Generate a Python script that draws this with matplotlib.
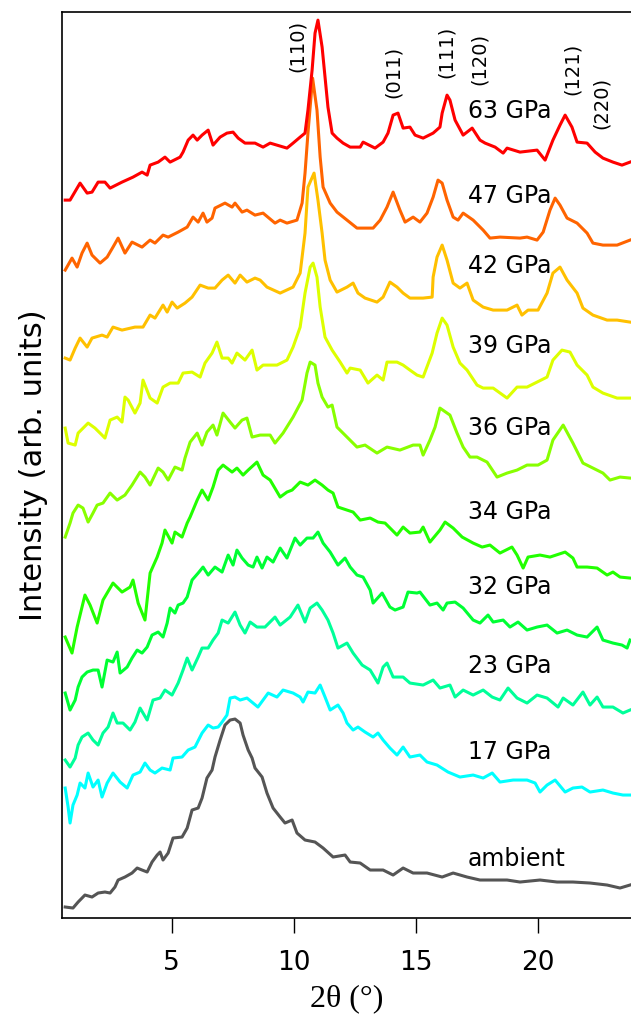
import matplotlib
matplotlib.use('Agg')
import matplotlib.pyplot as plt

# 2theta (deg) and stacked intensity (arb. units)
tth_63 = [0.64, 0.84, 1.25, 1.54, 1.74, 1.99, 2.27, 2.48, 2.97, 3.42, 3.79, 4.00, 4.12, 4.45, 4.73, 4.94,
          5.35, 5.47, 5.68, 5.88, 6.05, 6.25, 6.50, 6.70, 6.99, 7.27, 7.52, 7.73, 8.01, 8.42, 8.75, 9.04,
          9.73, 9.98, 10.27, 10.47, 10.59, 10.76, 10.88, 11.00, 11.17, 11.29, 11.41, 11.58, 11.78, 12.03,
          12.32, 12.73, 12.85, 13.34, 13.67, 13.87, 14.08, 14.28, 14.49, 14.77, 14.98, 15.31, 15.72, 16.00,
          16.09, 16.29, 16.41, 16.62, 16.95, 17.32, 17.64, 17.85, 18.26, 18.59, 18.75, 19.28, 19.98, 20.31,
          20.63, 20.92, 21.13, 21.41, 21.62, 22.03, 22.36, 22.68, 23.09, 23.46, 23.79]
int_63 = [718, 718, 735, 725, 726, 736, 736, 730, 736, 741, 746, 743, 753, 756, 761, 756,
          761, 766, 778, 783, 778, 783, 788, 773, 781, 785, 786, 780, 775, 775, 771, 775,
          770, 775, 781, 785, 808, 848, 885, 898, 871, 841, 811, 785, 780, 775,
          771, 771, 776, 770, 776, 785, 803, 805, 790, 791, 783, 780, 785, 791,
          805, 823, 818, 798, 783, 790, 778, 775, 771, 765, 770, 766, 768, 758,
          778, 793, 803, 791, 776, 775, 766, 760, 756, 753, 756]

tth_47 = [0.64, 0.92, 1.13, 1.33, 1.54, 1.74, 2.07, 2.36, 2.60, 2.81, 3.09, 3.38, 3.79, 4.12, 4.32, 4.65,
          4.86, 5.27, 5.64, 5.88, 6.09, 6.29, 6.45, 6.66, 6.78, 7.19, 7.48, 7.60, 7.89, 8.09, 8.42, 8.75,
          9.24, 9.45, 9.73, 10.14, 10.35, 10.47, 10.59, 10.78, 10.96, 11.09, 11.21, 11.50, 11.78, 12.19,
          12.60, 13.26, 13.55, 13.83, 14.08, 14.36, 14.57, 14.90, 15.18, 15.47, 15.72, 15.92, 16.09, 16.29,
          16.54, 16.74, 16.95, 17.36, 17.77, 18.05, 18.46, 19.28, 19.57, 19.98, 20.23, 20.51, 20.72, 20.92,
          21.21, 21.62, 22.03, 22.27, 22.68, 23.26, 23.79]
int_47 = [648, 660, 651, 665, 675, 663, 655, 661, 671, 680, 665, 676, 671, 678, 675, 683,
          681, 686, 691, 701, 696, 705, 696, 700, 710, 715, 711, 715, 706, 708, 703, 705,
          695, 698, 695, 698, 715, 745, 785, 840, 808, 761, 731, 715, 706, 698,
          690, 690, 698, 711, 726, 708, 696, 701, 696, 705, 721, 738, 735, 718,
          701, 698, 705, 698, 688, 680, 681, 680, 681, 678, 686, 708, 720, 713,
          700, 695, 685, 675, 673, 673, 678]

tth_42 = [0.64, 0.84, 1.05, 1.25, 1.54, 1.74, 2.15, 2.36, 2.60, 2.97, 3.50, 3.83, 4.12, 4.32, 4.65, 4.82,
          5.02, 5.23, 5.55, 5.84, 6.17, 6.50, 6.78, 7.07, 7.32, 7.60, 7.81, 8.09, 8.42, 8.63, 8.91, 9.45,
          9.98, 10.27, 10.47, 10.59, 10.84, 11.00, 11.17, 11.29, 11.50, 11.78, 12.19, 12.44, 12.64, 12.93,
          13.42, 13.67, 13.95, 14.24, 14.49, 14.77, 15.31, 15.68, 15.72, 15.88, 16.09, 16.29, 16.54, 16.82,
          17.11, 17.36, 17.77, 18.18, 18.75, 19.16, 19.36, 19.61, 20.02, 20.39, 20.63, 20.92, 21.21, 21.62,
          21.86, 22.27, 22.85, 23.26, 23.79]
int_42 = [560, 558, 570, 580, 571, 580, 583, 581, 591, 588, 591, 591, 603, 600, 613, 606,
          616, 610, 615, 621, 633, 630, 630, 638, 643, 635, 643, 636, 640, 638, 631, 625,
          631, 645, 685, 731, 745, 718, 685, 658, 638, 626, 631, 635, 625, 620,
          616, 621, 636, 631, 625, 620, 620, 621, 641, 661, 673, 658, 635, 630,
          635, 618, 611, 608, 608, 613, 603, 608, 608, 625, 645, 651, 638, 625,
          610, 603, 598, 598, 596]

tth_39 = [0.64, 0.76, 1.05, 1.17, 1.58, 1.86, 2.15, 2.27, 2.48, 2.77, 2.97, 3.09, 3.22, 3.50, 3.71, 3.83,
          4.12, 4.41, 4.65, 4.94, 5.27, 5.47, 5.84, 6.17, 6.37, 6.66, 6.86, 7.07, 7.32, 7.48, 7.68, 8.01,
          8.30, 8.50, 8.75, 9.32, 9.73, 9.98, 10.27, 10.47, 10.68, 10.80, 10.96, 11.09, 11.29, 11.58,
          11.91, 12.19, 12.32, 12.73, 13.05, 13.42, 13.67, 13.83, 14.24, 14.49, 14.77, 15.06, 15.31, 15.68,
          15.88, 16.09, 16.29, 16.54, 16.82, 17.11, 17.52, 17.77, 18.18, 18.75, 19.16, 19.57, 19.98, 20.39,
          20.63, 21.00, 21.33, 21.62, 22.03, 22.27, 22.68, 23.26, 23.79]
int_39 = [490, 475, 473, 485, 495, 490, 483, 480, 498, 501, 496, 521, 518, 505, 515, 538,
          520, 515, 531, 535, 535, 545, 546, 541, 555, 565, 576, 560, 560, 555, 565, 558,
          568, 548, 553, 553, 558, 571, 591, 625, 651, 655, 641, 611, 581, 568,
          556, 545, 550, 548, 535, 543, 538, 556, 556, 553, 548, 543, 541, 565,
          585, 600, 593, 571, 555, 548, 533, 530, 530, 520, 531, 531, 536, 541,
          558, 568, 566, 553, 543, 531, 525, 520, 520]

tth_36 = [0.64, 0.84, 0.96, 1.17, 1.37, 1.58, 1.78, 1.95, 2.19, 2.48, 2.77, 3.09, 3.38, 3.71, 3.91, 4.12,
          4.45, 4.65, 4.86, 5.14, 5.43, 5.55, 5.76, 6.05, 6.25, 6.45, 6.70, 6.86, 7.11, 7.40, 7.60, 7.89,
          8.09, 8.30, 8.63, 9.04, 9.24, 9.57, 9.98, 10.35, 10.55, 10.68, 10.88, 11.00, 11.17, 11.41, 11.58,
          11.78, 12.19, 12.60, 12.93, 13.42, 13.83, 14.36, 14.90, 15.18, 15.31, 15.59, 15.80, 16.00, 16.41,
          16.70, 16.95, 17.23, 17.52, 17.93, 18.34, 18.75, 19.16, 19.57, 20.02, 20.39, 20.63, 21.05, 21.45,
          21.86, 22.27, 22.68, 22.97, 23.38, 23.79]
int_36 = [381, 395, 405, 413, 410, 396, 405, 413, 415, 425, 418, 423, 433, 446, 441, 433,
          450, 446, 438, 451, 448, 460, 476, 485, 473, 486, 493, 483, 505, 496, 490, 498,
          500, 481, 483, 483, 475, 485, 501, 518, 545, 556, 553, 535, 521, 511, 513,
          491, 481, 471, 473, 465, 471, 468, 473, 473, 463, 478, 491, 510, 503,
          485, 471, 461, 461, 456, 441, 445, 448, 453, 453, 458, 478, 493, 475,
          455, 450, 445, 438, 441, 440]

tth_34 = [0.64, 0.92, 1.13, 1.45, 1.66, 1.95, 2.19, 2.60, 2.97, 3.30, 3.42, 3.63, 3.91, 4.12, 4.41, 4.61,
          4.73, 5.02, 5.14, 5.43, 5.64, 5.76, 6.05, 6.25, 6.50, 6.70, 6.91, 7.11, 7.48, 7.68, 7.93, 8.14,
          8.50, 8.75, 9.04, 9.45, 9.73, 9.94, 10.27, 10.59, 10.88, 11.17, 11.41, 11.62, 11.82, 12.19,
          12.44, 12.73, 13.14, 13.46, 13.75, 14.24, 14.49, 14.77, 15.18, 15.31, 15.59, 16.00, 16.21, 16.54,
          16.91, 17.36, 17.73, 18.05, 18.46, 18.95, 19.16, 19.41, 19.61, 20.10, 20.51, 21.13, 21.45, 21.62,
          22.03, 22.44, 22.85, 23.09, 23.38, 23.79]
int_34 = [281, 265, 291, 323, 313, 295, 318, 335, 326, 331, 338, 315, 298, 345, 361, 375,
          388, 375, 386, 381, 395, 401, 418, 428, 418, 431, 448, 453, 446, 450, 443, 448,
          456, 443, 438, 421, 426, 428, 436, 433, 438, 433, 428, 425, 411, 408,
          406, 398, 400, 396, 395, 383, 391, 385, 386, 391, 376, 388, 396, 390,
          381, 375, 371, 373, 365, 371, 363, 350, 361, 363, 361, 366, 360, 351,
          351, 350, 343, 346, 341, 340]

tth_32 = [0.64, 0.84, 1.05, 1.17, 1.33, 1.54, 1.78, 1.99, 2.15, 2.36, 2.60, 2.77, 2.89, 3.18, 3.38, 3.59,
          3.79, 4.00, 4.20, 4.45, 4.65, 4.82, 4.94, 5.14, 5.27, 5.47, 5.64, 5.84, 6.09, 6.29, 6.50, 6.78,
          7.07, 7.32, 7.52, 7.68, 7.89, 8.14, 8.34, 8.50, 8.71, 8.91, 9.16, 9.45, 9.73, 10.06, 10.27,
          10.55, 10.80, 11.00, 11.21, 11.50, 11.82, 12.11, 12.32, 12.60, 12.85, 13.14, 13.26, 13.63, 13.95,
          14.16, 14.49, 14.69, 15.06, 15.18, 15.59, 15.88, 16.13, 16.29, 16.62, 16.95, 17.36, 17.64, 17.97,
          18.18, 18.59, 18.87, 19.20, 19.57, 19.98, 20.39, 20.80, 21.21, 21.62, 22.03, 22.44, 22.68, 23.09,
          23.46, 23.67, 23.79]
int_32 = [225, 208, 218, 231, 241, 246, 248, 248, 231, 258, 256, 266, 245, 251, 260, 268,
          265, 271, 283, 286, 281, 295, 310, 305, 313, 315, 321, 338, 345, 351, 343, 351,
          346, 363, 353, 368, 360, 353, 351, 361, 350, 361, 356, 370, 360, 380, 373,
          380, 380, 386, 375, 366, 353, 360, 351, 343, 341, 328, 315, 325, 311,
          308, 311, 326, 325, 326, 313, 315, 308, 315, 316, 310, 298, 295, 303,
          296, 298, 291, 296, 288, 291, 293, 285, 288, 283, 281, 291, 278, 275,
          273, 270, 278]

tth_23 = [0.64, 0.84, 1.05, 1.17, 1.33, 1.58, 1.78, 1.99, 2.19, 2.40, 2.60, 2.77, 3.01, 3.30, 3.50, 3.71,
          4.00, 4.24, 4.53, 4.73, 5.02, 5.27, 5.47, 5.64, 5.84, 6.09, 6.25, 6.50, 6.70, 6.91, 7.07, 7.32,
          7.60, 7.81, 8.01, 8.22, 8.50, 8.83, 9.24, 9.45, 9.86, 10.18, 10.47, 10.68, 10.96, 11.17, 11.41,
          11.62, 11.82, 12.19, 12.44, 12.81, 13.14, 13.46, 13.67, 13.83, 14.08, 14.49, 14.77, 15.31, 15.72,
          16.00, 16.41, 16.62, 16.95, 17.36, 17.77, 18.14, 18.46, 18.79, 19.16, 19.57, 19.98, 20.39, 20.84,
          21.05, 21.45, 21.86, 22.15, 22.44, 22.68, 23.09, 23.50, 23.79]
int_23 = [158, 151, 160, 173, 181, 185, 178, 173, 185, 191, 205, 195, 195, 188, 196, 210,
          198, 218, 220, 228, 223, 235, 248, 260, 248, 261, 270, 270, 278, 285, 298, 295,
          306, 293, 285, 296, 291, 291, 301, 293, 301, 313, 296, 310, 315, 308, 298,
          285, 270, 275, 265, 253, 248, 235, 251, 255, 241, 241, 235, 233, 238,
          230, 233, 221, 228, 223, 228, 221, 218, 230, 220, 215, 223, 220, 211,
          220, 213, 226, 213, 221, 211, 211, 205, 208]

tth_17 = [0.64, 0.76, 0.84, 0.96, 1.13, 1.25, 1.45, 1.58, 1.78, 1.99, 2.15, 2.36, 2.60, 2.89, 3.18, 3.42,
          3.71, 3.91, 4.12, 4.32, 4.61, 4.94, 5.06, 5.43, 5.68, 5.96, 6.25, 6.50, 6.70, 6.91, 7.07, 7.27,
          7.40, 7.60, 7.81, 8.09, 8.54, 8.96, 9.32, 9.57, 9.98, 10.27, 10.39, 10.59, 10.88, 11.09, 11.29,
          11.50, 11.82, 12.03, 12.19, 12.44, 12.64, 12.93, 13.26, 13.46, 13.67, 13.95, 14.24, 14.49, 14.77,
          15.18, 15.47, 15.88, 16.33, 16.82, 17.36, 17.77, 18.14, 18.46, 19.00, 19.57, 19.90, 20.10, 20.39,
          20.72, 21.13, 21.45, 21.82, 22.15, 22.68, 23.09, 23.50, 23.79]
int_17 = [130, 111, 95, 113, 123, 135, 130, 145, 131, 138, 121, 135, 145, 136, 130, 143,
          146, 155, 148, 145, 150, 148, 160, 161, 168, 171, 185, 193, 190, 191, 196, 203,
          220, 221, 218, 220, 211, 225, 221, 228, 225, 221, 216, 226, 225, 233, 221,
          208, 213, 205, 195, 188, 191, 186, 181, 185, 178, 170, 163, 171, 161,
          163, 156, 153, 146, 141, 143, 140, 145, 136, 138, 138, 135, 126, 133,
          138, 126, 130, 131, 126, 128, 125, 123, 123]

tth_amb = [0.64, 0.96, 1.17, 1.45, 1.74, 1.99, 2.27, 2.48, 2.68, 2.81, 3.09, 3.38, 3.59, 3.79, 4.00, 4.20,
           4.41, 4.53, 4.65, 4.86, 5.06, 5.43, 5.64, 5.84, 6.09, 6.25, 6.45, 6.66, 6.78, 6.99, 7.19, 7.40,
           7.60, 7.81, 7.93, 8.14, 8.30, 8.42, 8.71, 8.91, 9.16, 9.45, 9.65, 9.94, 10.14, 10.47, 10.88,
           11.21, 11.62, 12.11, 12.32, 12.73, 13.14, 13.67, 14.08, 14.49, 14.90, 15.47, 16.09, 16.54, 17.11,
           17.64, 18.18, 18.75, 19.28, 20.10, 20.80, 21.45, 22.15, 22.85, 23.38, 23.79]
int_amb = [11, 10, 16, 23, 21, 25, 26, 25, 31, 38, 41, 45, 50, 48, 46, 56,
           63, 66, 58, 65, 80, 81, 90, 108, 110, 120, 140, 148, 161, 178, 193, 198,
           199, 195, 183, 168, 160, 150, 141, 125, 110, 101, 95, 98, 85, 78, 76,
           70, 61, 63, 56, 55, 48, 48, 43, 50, 45, 45, 41, 45, 41,
           38, 38, 38, 36, 38, 36, 36, 35, 33, 30, 33]

pressures = ['ambient', '17 GPa', '23 GPa', '32 GPa', '34 GPa', '36 GPa', '39 GPa', '42 GPa', '47 GPa', '63 GPa']
label_y = [59, 166, 252, 331, 406, 490, 572, 652, 722, 807]
colors = ['#555555', '#00FFFF', '#00FF99', '#00FF33', '#22FF00', '#88FF00', '#DDFF00', '#FFC000', '#FF6400', '#FF0000']

hkl = ['(110)', '(011)', '(111)', '(120)', '(121)', '(220)']
hkl_tth = [10.14, 14.08, 16.25, 17.6, 21.41, 22.6]
hkl_y = [872, 846, 866, 859, 849, 815]

tth_all = [tth_amb, tth_17, tth_23, tth_32, tth_34, tth_36, tth_39, tth_42, tth_47, tth_63]
int_all = [int_amb, int_17, int_23, int_32, int_34, int_36, int_39, int_42, int_47, int_63]

fig = plt.figure(figsize=(6.31, 10.19), dpi=100)
ax = fig.add_axes([0.0975, 0.0991, 0.9025, 0.889])

for i in range(len(pressures)):
    ax.plot(tth_all[i], int_all[i], color=colors[i], lw=2.2)
    ax.text(17.15, label_y[i], pressures[i], fontsize=17, va='center', ha='left')

for i in range(len(hkl)):
    ax.text(hkl_tth[i], hkl_y[i], hkl[i], rotation=90, fontsize=14, ha='center', va='center',
            clip_on=False, zorder=5,
            bbox=dict(facecolor='white', edgecolor='none', pad=0.5))

ax.set_xlim(0.49, 23.83)
ax.set_ylim(0, 906)
ax.set_xticks([5, 10, 15, 20])
ax.set_yticks([])
ax.tick_params(axis='x', direction='out', length=11, width=1, labelsize=19, pad=12)
ax.spines['right'].set_visible(False)
for s in ['left', 'top', 'bottom']:
    ax.spines[s].set_linewidth(1.2)
ax.set_xlabel('2θ (°)', fontsize=23, family='Liberation Serif', labelpad=6)
ax.set_ylabel('Intensity (arb. units)', fontsize=22, labelpad=10)

fig.savefig('out.png', dpi=100)
